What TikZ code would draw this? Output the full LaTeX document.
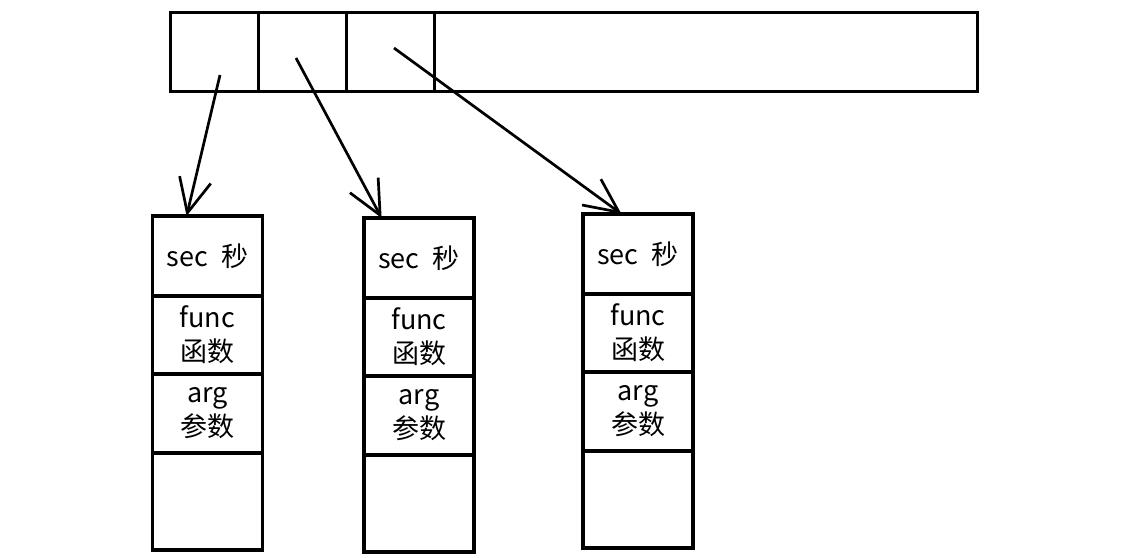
\documentclass[tikz,border=0pt]{standalone}
\usepackage{fontspec}
\setmainfont{Noto Sans CJK SC}
\usetikzlibrary{arrows.meta,positioning,calc}

\begin{document}
\begin{tikzpicture}[x=1pt, y=-1pt,
  slot/.style={draw, line width=3pt, minimum height=79pt, outer sep=0pt, inner sep=0pt},
  cell/.style={draw, line width=3.2pt, minimum width=110pt, outer sep=0pt,
               inner sep=0pt, align=center, font=\fontsize{27}{34}\selectfont},
  ptr/.style={-{Straight Barb[length=34pt, width=32pt]}, line width=2.7pt}]
\useasboundingbox (0,0) rectangle (1131,557);
% --- top array of slots ---
\node[slot, minimum width=88pt] (slotA) at (214,51.5) {};
\node[slot, minimum width=88pt, right=0pt of slotA] (slotB) {};
\node[slot, minimum width=88pt, right=0pt of slotB] (slotC) {};
\node[slot, minimum width=543pt, right=0pt of slotC] (rest) {};
% --- timer records ---
\foreach \n/\x/\y in {1/207.5/216, 2/419/218, 3/638/214} {
  \node[cell, minimum height=80pt, anchor=north] (sec\n) at (\x,\y) {sec\enspace 秒};
  \node[cell, minimum height=78pt, below=0pt of sec\n] (func\n) {func\\函数};
  \node[cell, minimum height=79pt, below=0pt of func\n] (arg\n) {arg\\参数};
  \node[cell, minimum height=97pt, below=0pt of arg\n] (spare\n) {};
}
% --- pointers ---
\coordinate (pA) at (220,75);
\coordinate (pB) at (296,58);
\coordinate (pC) at (394,48);
\draw[ptr] (pA) -- ($(sec1.north west)!0.31!(sec1.north east)$);
\draw[ptr] (pB) -- ($(sec2.north west)!0.16!(sec2.north east)$);
\draw[ptr] (pC) -- ($(sec3.north west)!0.35!(sec3.north east)$);
\end{tikzpicture}
\end{document}
